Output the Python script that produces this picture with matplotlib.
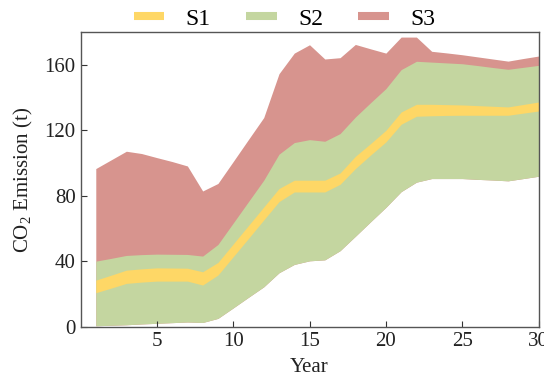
import matplotlib
matplotlib.use("Agg")
import matplotlib.pyplot as plt
from matplotlib.lines import Line2D

years = list(range(1, 31))
s3_upper = [96.7, 102.0, 107.3, 105.9, 103.4, 101.0, 98.3, 83.0, 87.6, 101.0,
            114.5, 127.9, 154.7, 167.3, 172.4, 163.7, 164.5, 172.6, 169.9, 167.3,
            177.1, 177.1, 168.4, 167.4, 166.3, 165.0, 163.7, 162.4, 164.0, 165.5]
s2_upper = [40.1, 41.8, 43.6, 44.1, 44.4, 44.3, 44.2, 43.2, 50.3, 63.4,
            76.5, 89.6, 105.5, 112.6, 114.4, 113.4, 118.1, 128.2, 137.0, 145.6,
            157.2, 162.3, 161.8, 161.3, 160.8, 159.7, 158.5, 157.4, 158.6, 159.8]
s1_upper = [28.5, 31.5, 34.6, 35.4, 36.0, 35.9, 35.8, 33.6, 39.3, 50.6,
            61.9, 73.2, 84.5, 89.6, 89.6, 89.6, 94.0, 104.2, 112.0, 120.1,
            131.3, 136.0, 136.0, 135.8, 135.6, 135.2, 134.8, 134.4, 135.9, 137.4]
s1_lower = [20.8, 23.6, 26.5, 27.3, 27.9, 27.9, 27.9, 25.5, 31.6, 42.8,
            54.0, 65.3, 76.5, 82.4, 82.4, 82.4, 87.1, 96.7, 105.0, 113.0,
            123.8, 128.7, 129.0, 129.2, 129.3, 129.3, 129.3, 129.3, 130.6, 131.9]
s2_lower = [0.6, 0.9, 1.2, 1.7, 2.1, 2.5, 2.9, 2.6, 5.1, 11.5,
            18.0, 24.4, 33.0, 38.1, 40.3, 40.9, 46.5, 55.3, 64.2, 73.0,
            82.6, 88.4, 90.6, 90.6, 90.6, 90.1, 89.7, 89.2, 90.6, 92.0]

labels = ["S1", "S2", "S3"]
colors = ["#FED766", "#C4D6A0", "#D7948E"]

plt.rcParams['font.family'] = ['Liberation Serif', 'DejaVu Serif']
plt.rcParams['mathtext.fontset'] = 'custom'
plt.rcParams['mathtext.rm'] = 'Liberation Serif'

fig = plt.figure(figsize=(5.44, 3.76), dpi=100)
ax = fig.add_axes([0.148, 0.131, 0.842, 0.783])

ax.fill_between(years, s2_lower, s3_upper, color=colors[2], linewidth=0)
ax.fill_between(years, s2_lower, s2_upper, color=colors[1], linewidth=0)
ax.fill_between(years, s1_lower, s1_upper, color=colors[0], linewidth=0)

ax.set_xlim(0, 30)
ax.set_ylim(0, 180)
ax.set_xticks([5, 10, 15, 20, 25, 30])
ax.set_yticks([0, 40, 80, 120, 160])
ax.tick_params(direction='in', length=4, labelsize=15, colors='#333333',
               labelcolor='#222222', top=False, right=False)
for sp in ax.spines.values():
    sp.set_color('#555555')
    sp.set_linewidth(1.0)

ax.set_xlabel("Year", fontsize=15, labelpad=5, color='#222222')
ax.set_ylabel("CO$_2$ Emission (t)", fontsize=15, labelpad=7, color='#222222')

handles = [Line2D([0], [0], color=c, linewidth=5.8, solid_capstyle='butt')
           for c in colors]
fig.legend(handles, labels, loc='upper center', bbox_to_anchor=(0.523, 1.035),
           ncol=3, frameon=False, fontsize=17, handlelength=1.3,
           columnspacing=1.5, handletextpad=0.9)

fig.savefig("out.png", dpi=100)
